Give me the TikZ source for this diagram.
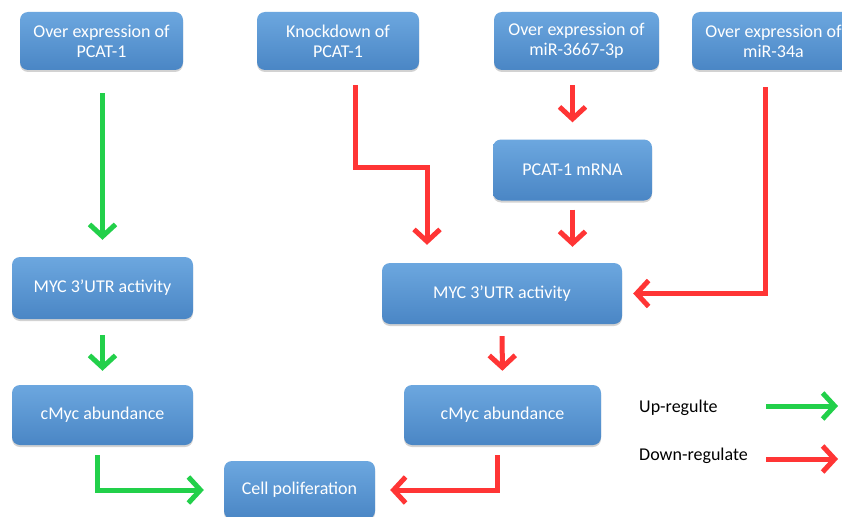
\documentclass[tikz,border=0pt]{standalone}
\usepackage{fontspec}
\setmainfont{Carlito}
\usetikzlibrary{arrows.meta,shadows}
\definecolor{boxtop}{HTML}{6CA7DF}
\definecolor{boxbot}{HTML}{4A86C5}
\definecolor{upg}{HTML}{22D04A}
\definecolor{downr}{HTML}{FF3535}
\tikzset{
  box/.style={rounded corners=8pt, top color=boxtop, bottom color=boxbot,
    text=white, align=center, font=\fontsize{18}{20}\selectfont,
    inner sep=0pt, drop shadow={opacity=0.35, shadow xshift=0pt, shadow yshift=-2pt}},
  arr/.style={line width=5pt, -{Straight Barb[length=12pt,width=26pt]}},
  uparr/.style={arr, draw=upg},
  downarr/.style={arr, draw=downr},
  legtext/.style={font=\fontsize{18}{20}\selectfont, anchor=west, inner sep=0pt}
}
\begin{document}
\begin{tikzpicture}[x=1pt,y=-1pt]
\clip (0,0) rectangle (842,516);
\fill[white] (0,0) rectangle (842,516);
% nodes
\node[box, minimum width=163pt, minimum height=58pt] (A) at (101.5,41) {Over expression of\\PCAT-1};
\node[box, minimum width=162pt, minimum height=58pt] (B) at (338,41) {Knockdown of\\PCAT-1};
\node[box, minimum width=165pt, minimum height=58pt] (C) at (576.5,41) {Over expression of\\miR-3667-3p};
\node[box, minimum width=163pt, minimum height=58pt] (D) at (773.5,41) {Over expression of\\miR-34a};
\node[box, minimum width=159pt, minimum height=61pt] (M) at (572.5,170) {PCAT-1 mRNA};
\node[box, minimum width=240pt, minimum height=61pt] (YR) at (502,293.5) {MYC 3’UTR activity};
\node[box, minimum width=181pt, minimum height=62pt] (YL) at (102.5,288) {MYC 3’UTR activity};
\node[box, minimum width=181pt, minimum height=60pt] (CL) at (102.5,415) {cMyc abundance};
\node[box, minimum width=197pt, minimum height=60pt] (CR) at (502.5,415) {cMyc abundance};
\node[box, minimum width=151pt, minimum height=58pt] (P) at (299.5,490) {Cell poliferation};
% legend
\node[legtext] (LU) at (639,408) {Up-regulte};
\node[legtext] (LD) at (639,456) {Down-regulate};
\coordinate (lu1) at (766,406);
\coordinate (lu2) at (838,406);
\coordinate (ld1) at (766,459);
\coordinate (ld2) at (838,459);
\draw[uparr] (lu1) -- (lu2);
\draw[downarr] (ld1) -- (ld2);
% green chain
\draw[uparr, shorten <=23pt, shorten >=17pt] (A.south -| YL.north) -- (YL.north);
\draw[uparr, shorten <=16pt, shorten >=14pt] (YL.south) -- (CL.north);
\draw[uparr, shorten <=10pt, shorten >=20pt] ([xshift=-5.5pt]CL.south) |- (P.west);
% red
\coordinate (b1) at (427,167);
\draw[downarr, shorten <=15pt] ([xshift=17pt]B.south) |- (b1) -- ([yshift=18pt]b1 |- YR.north);
\draw[downarr, shorten <=15pt, shorten >=17pt] (C.south -| M.north) -- (M.north);
\draw[downarr, shorten <=9pt, shorten >=16pt] (M.south) -- (M.south |- YR.north);
\draw[downarr, shorten <=17pt, shorten >=11pt] ([xshift=-8.5pt]D.south) |- (YR.east);
\draw[downarr, shorten <=12pt, shorten >=14pt] (YR.south) -- (CR.north);
\draw[downarr, shorten <=10pt, shorten >=15pt] ([xshift=-5.5pt]CR.south) |- (P.east);
\end{tikzpicture}
\end{document}
